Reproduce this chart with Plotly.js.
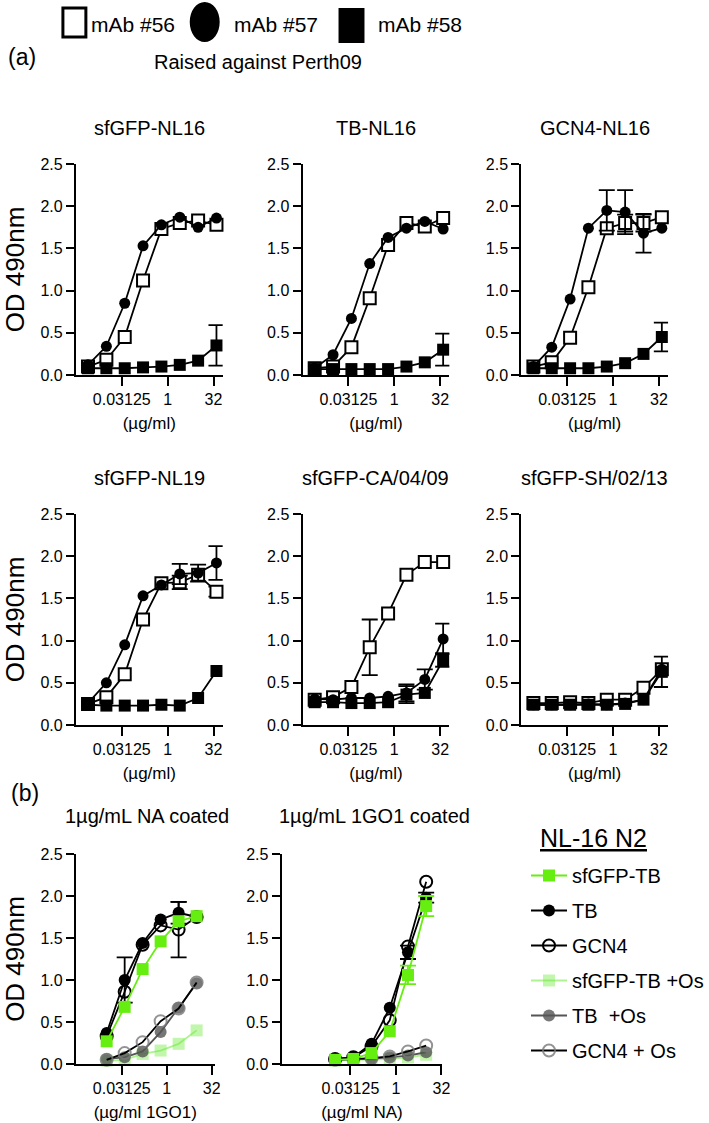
<!DOCTYPE html>
<html>
<head>
<meta charset="utf-8">
<script src="https://cdn.plot.ly/plotly-3.0.1.min.js"></script>
<style>
  body { margin: 0; background: white; }
  #chart { width: 709px; height: 1123px; }
</style>
</head>
<body>
<div id="chart"></div>
<script>
// concentrations (ug/ml), 4-fold dilutions
const aConc = [0.00244, 0.00977, 0.0391, 0.156, 0.625, 2.5, 10, 40]
const bConc = [0.00977, 0.0391, 0.156, 0.625, 2.5, 10]

const panelTitles = ['sfGFP-NL16', 'TB-NL16', 'GCN4-NL16', 'sfGFP-NL19', 'sfGFP-CA/04/09', 'sfGFP-SH/02/13']
const mabNames = ['mAb #56', 'mAb #57', 'mAb #58']

// (a) OD 490nm, one array per mAb per antigen; 0 in an err array = no bar
const nl16_56 = [0.10, 0.18, 0.45, 1.12, 1.73, 1.80, 1.83, 1.78]
const nl16_57 = [0.12, 0.34, 0.85, 1.53, 1.78, 1.87, 1.75, 1.86]
const nl16_58 = [0.08, 0.08, 0.08, 0.09, 0.10, 0.12, 0.17, 0.35]
const nl16_58err = [0, 0, 0, 0, 0, 0, 0, 0.24]

const tb16_56 = [0.08, 0.10, 0.33, 0.91, 1.54, 1.80, 1.76, 1.86]
const tb16_57 = [0.08, 0.24, 0.67, 1.32, 1.63, 1.74, 1.82, 1.73]
const tb16_58 = [0.07, 0.07, 0.07, 0.07, 0.07, 0.10, 0.15, 0.30]
const tb16_58err = [0, 0, 0, 0, 0, 0, 0, 0.19]

const gcn16_56 = [0.10, 0.15, 0.44, 1.04, 1.74, 1.80, 1.80, 1.87]
const gcn16_56err = [0, 0, 0, 0, 0, 0.1, 0.1, 0]
const gcn16_57 = [0.10, 0.33, 0.90, 1.74, 1.95, 1.93, 1.68, 1.74]
const gcn16_57err = [0, 0, 0, 0, 0.24, 0.26, 0.23, 0]
const gcn16_58 = [0.08, 0.08, 0.08, 0.08, 0.10, 0.14, 0.25, 0.45]
const gcn16_58err = [0, 0, 0, 0, 0, 0, 0, 0.17]

const nl19_56 = [0.25, 0.33, 0.60, 1.25, 1.68, 1.69, 1.78, 1.58]
const nl19_56err = [0, 0, 0, 0, 0, 0.08, 0, 0.06]
const nl19_57 = [0.26, 0.50, 0.95, 1.53, 1.66, 1.79, 1.80, 1.92]
const nl19_57err = [0, 0, 0, 0, 0, 0.12, 0.1, 0.2]
const nl19_58 = [0.24, 0.23, 0.23, 0.23, 0.24, 0.23, 0.32, 0.64]

const ca_56 = [0.30, 0.33, 0.45, 0.92, 1.32, 1.78, 1.93, 1.93]
const ca_56err = [0, 0, 0, 0.33, 0, 0, 0, 0]
const ca_57 = [0.31, 0.30, 0.32, 0.32, 0.34, 0.38, 0.54, 1.02]
const ca_57err = [0, 0, 0, 0, 0, 0.1, 0.12, 0.18]
const ca_58 = [0.27, 0.27, 0.26, 0.26, 0.27, 0.36, 0.38, 0.77]
const ca_58err = [0, 0, 0, 0, 0, 0.1, 0, 0.08]

const sh_56 = [0.26, 0.26, 0.27, 0.26, 0.30, 0.30, 0.44, 0.66]
const sh_57 = [0.24, 0.24, 0.24, 0.25, 0.24, 0.26, 0.30, 0.66]
const sh_58 = [0.24, 0.24, 0.24, 0.24, 0.24, 0.25, 0.30, 0.63]
const sh_58err = [0, 0, 0, 0, 0, 0, 0, 0.18]

// (b) NL-16 N2
const bNames = ['sfGFP-TB', 'TB', 'GCN4', 'sfGFP-TB +Os', 'TB  +Os', 'GCN4 + Os']
const na_sfgfp = [0.27, 0.68, 1.13, 1.46, 1.70, 1.76]
const na_tb = [0.37, 1.00, 1.44, 1.72, 1.80, 1.75]
const na_tbErr = [0, 0.27, 0, 0, 0.13, 0]
const na_gcn4 = [0.33, 0.86, 1.42, 1.65, 1.60, 1.75]
const na_gcn4Err = [0, 0, 0, 0, 0.33, 0]
const na_sfgfpOs = [0.04, 0.05, 0.12, 0.16, 0.24, 0.40]
const na_tbOs = [0.06, 0.08, 0.15, 0.38, 0.67, 0.96]
const na_gcn4Os = [0.05, 0.13, 0.26, 0.51, 0.66, 0.97]

const go_sfgfp = [0.05, 0.06, 0.13, 0.39, 1.06, 1.88]
const go_sfgfpErr = [0, 0, 0, 0, 0.11, 0.12]
const go_tb = [0.06, 0.08, 0.24, 0.67, 1.33, 1.98]
const go_tbErr = [0, 0, 0, 0, 0.08, 0.06]
const go_gcn4 = [0.06, 0.08, 0.21, 0.52, 1.40, 2.17]
const go_sfgfpOs = [0.04, 0.05, 0.05, 0.06, 0.08, 0.11]
const go_tbOs = [0.05, 0.06, 0.06, 0.08, 0.10, 0.14]
const go_gcn4Os = [0.05, 0.06, 0.07, 0.09, 0.15, 0.22]

const W = 709, H = 1123
const FONT = 'Liberation Sans, Arial, sans-serif'
const GREEN = '#66ee11'

function px(x){ return x / W }
function py(y){ return 1 - y / H }

// turn 0 into NaN so no bar is drawn there
function errArr(a){
    if (!a) return null
    return a.map(v => v === 0 ? NaN : v)
}

const mabStyle = [
    {symbol: 'square', color: 'white', line: {color: 'black', width: 2}, size: 12},
    {symbol: 'circle', color: 'black', line: {color: 'black', width: 0}, size: 11},
    {symbol: 'square', color: 'black', line: {color: 'black', width: 0}, size: 12}
]

const bStyle = [
    {marker: {symbol: 'square', color: GREEN, size: 12}, line: GREEN},
    {marker: {symbol: 'circle', color: 'black', size: 12}, line: 'black'},
    {marker: {symbol: 'circle-open', color: 'black', size: 12, line: {width: 2}}, line: 'black'},
    {marker: {symbol: 'square', color: 'rgba(120,235,70,0.45)', size: 12}, line: 'rgba(120,235,70,0.6)'},
    {marker: {symbol: 'circle', color: 'rgba(85,85,85,0.8)', size: 12}, line: '#555555'},
    {marker: {symbol: 'circle-open', color: 'rgba(120,120,120,0.8)', size: 12, line: {width: 2}}, line: 'black'}
]

// panel boxes in pixels: left, right, top, bottom
const aBoxes = [
    [76, 223, 164, 375], [303, 450, 164, 375], [522, 669, 164, 375],
    [76, 223, 514, 725], [303, 450, 514, 725], [522, 669, 514, 725]
]
const aData = [
    [[nl16_56, null], [nl16_57, null], [nl16_58, nl16_58err]],
    [[tb16_56, null], [tb16_57, null], [tb16_58, tb16_58err]],
    [[gcn16_56, gcn16_56err], [gcn16_57, gcn16_57err], [gcn16_58, gcn16_58err]],
    [[nl19_56, nl19_56err], [nl19_57, nl19_57err], [nl19_58, null]],
    [[ca_56, ca_56err], [ca_57, ca_57err], [ca_58, ca_58err]],
    [[sh_56, null], [sh_57, null], [sh_58, sh_58err]]
]
const bBoxes = [[76, 215, 854, 1064], [282, 443, 854, 1064]]
const bData = [
    [[na_sfgfp, null], [na_tb, na_tbErr], [na_gcn4, na_gcn4Err], [na_sfgfpOs, null], [na_tbOs, null], [na_gcn4Os, null]],
    [[go_sfgfp, go_sfgfpErr], [go_tb, go_tbErr], [go_gcn4, null], [go_sfgfpOs, null], [go_tbOs, null], [go_gcn4Os, null]]
]
const bTitles = ['1\u00b5g/mL NA coated', '1\u00b5g/mL 1GO1 coated']
const bXTitles = ['(\u00b5g/ml 1GO1)', '(\u00b5g/ml NA)']
const bRanges = [[-3.04, 1.605], [-3.778, 1.535]]

function xAxis(box, n, range, title){
    return {
        domain: [px(box[0]), px(box[1])], anchor: 'y' + n, type: 'log', range: range,
        tickvals: [0.03125, 1, 32], ticktext: ['0.03125', '1', '32'],
        ticks: 'outside', ticklen: 9, tickwidth: 2, tickcolor: 'black',
        showline: true, linewidth: 2, linecolor: 'black',
        showgrid: false, zeroline: false,
        tickfont: {size: 16, color: 'black'},
        title: {text: title, font: {size: 17, color: 'black'}, standoff: 10}
    }
}

function yAxis(box, n, showTitle){
    return {
        domain: [py(box[3]), py(box[2])], anchor: 'x' + n, range: [0, 2.5],
        tickvals: [0, 0.5, 1, 1.5, 2, 2.5], tickformat: '.1f',
        ticks: 'outside', ticklen: 8, tickwidth: 2, tickcolor: 'black',
        showline: true, linewidth: 2, linecolor: 'black',
        showgrid: false, zeroline: false,
        tickfont: {size: 16, color: 'black'},
        title: {text: showTitle ? 'OD 490nm' : '', font: {size: 26, color: 'black'}, standoff: 14}
    }
}

const traces = []
const layout = {
    width: W, height: H,
    margin: {l: 0, r: 0, t: 0, b: 0},
    paper_bgcolor: 'white', plot_bgcolor: 'rgba(0,0,0,0)',
    font: {family: FONT, color: 'black'},
    showlegend: true,
    legend2: {
        x: px(527), y: py(856), xanchor: 'left', yanchor: 'top',
        font: {size: 20, color: 'black'}, bgcolor: 'rgba(0,0,0,0)',
        tracegroupgap: 6, itemwidth: 36, traceorder: 'grouped'
    },
    annotations: [],
    shapes: []
}

aBoxes.forEach((box, i) => {
    const n = i + 1
    layout['xaxis' + n] = xAxis(box, n, [-3.0103, 1.8062], '(\u00b5g/ml)')
    layout['yaxis' + n] = yAxis(box, n, i % 3 === 0)
    layout.annotations.push({
        text: panelTitles[i], xref: 'paper', yref: 'paper',
        x: px((box[0] + box[1]) / 2), y: py(box[2] - 36), showarrow: false,
        font: {size: 20}, xanchor: 'center', yanchor: 'middle'
    })
    aData[i].forEach((s, k) => {
        traces.push({
            type: 'scatter', mode: 'lines+markers', x: aConc, y: s[0],
            xaxis: 'x' + n, yaxis: 'y' + n, cliponaxis: false, showlegend: false,
            name: mabNames[k],
            line: {color: 'black', width: 1.8},
            marker: mabStyle[k],
            error_y: {type: 'data', array: errArr(s[1]), visible: !!s[1], color: 'black', thickness: 1.8, width: 8}
        })
    })
})

bBoxes.forEach((box, j) => {
    const n = 7 + j
    layout['xaxis' + n] = xAxis(box, n, bRanges[j], bXTitles[j])
    layout['yaxis' + n] = yAxis(box, n, j === 0)
    layout.annotations.push({
        text: bTitles[j], xref: 'paper', yref: 'paper',
        x: px(j === 0 ? 147 : 375), y: py(816), showarrow: false,
        font: {size: 20}, xanchor: 'center', yanchor: 'middle'
    })
    // draw the +Os series first so the untreated ones sit on top
    const drawOrder = [3, 4, 5, 1, 2, 0]
    drawOrder.forEach(k => {
        const s = bData[j][k]
        traces.push({
            type: 'scatter', mode: 'lines+markers', x: bConc, y: s[0],
            xaxis: 'x' + n, yaxis: 'y' + n, cliponaxis: false,
            name: bNames[k], legend: 'legend2', legendrank: k + 1,
            legendgroup: 'g' + k, showlegend: j === 0,
            line: {color: bStyle[k].line, width: 1.8},
            marker: bStyle[k].marker,
            error_y: {type: 'data', array: errArr(s[1]), visible: !!s[1], color: bStyle[k].line, thickness: 1.8, width: 8}
        })
    })
})

// top key for the mAbs
layout.shapes.push(
    {type: 'rect', xref: 'paper', yref: 'paper', x0: px(63), x1: px(86), y0: py(37), y1: py(8), line: {color: 'black', width: 3}, fillcolor: 'white'},
    {type: 'circle', xref: 'paper', yref: 'paper', x0: px(190), x1: px(220), y0: py(42), y1: py(2), line: {color: 'black', width: 0}, fillcolor: 'black'},
    {type: 'rect', xref: 'paper', yref: 'paper', x0: px(339), x1: px(365), y0: py(43), y1: py(8), line: {color: 'black', width: 0}, fillcolor: 'black'}
)
const keyX = [89, 232, 377]
mabNames.forEach((m, k) => {
    layout.annotations.push({
        text: m, xref: 'paper', yref: 'paper', x: px(keyX[k]), y: py(25),
        xanchor: 'left', yanchor: 'middle', showarrow: false, font: {size: 21}
    })
})
layout.annotations.push(
    {text: 'Raised against Perth09', xref: 'paper', yref: 'paper', x: px(258), y: py(62), xanchor: 'center', yanchor: 'middle', showarrow: false, font: {size: 20}},
    {text: '(a)', xref: 'paper', yref: 'paper', x: px(6), y: py(57), xanchor: 'left', yanchor: 'middle', showarrow: false, font: {size: 23}},
    {text: '(b)', xref: 'paper', yref: 'paper', x: px(9), y: py(793), xanchor: 'left', yanchor: 'middle', showarrow: false, font: {size: 23}},
    {text: '<u>NL-16 N2</u>', xref: 'paper', yref: 'paper', x: px(594), y: py(838), xanchor: 'center', yanchor: 'middle', showarrow: false, font: {size: 25}}
)

Plotly.newPlot('chart', traces, layout, {staticPlot: true})
</script>
</body>
</html>
